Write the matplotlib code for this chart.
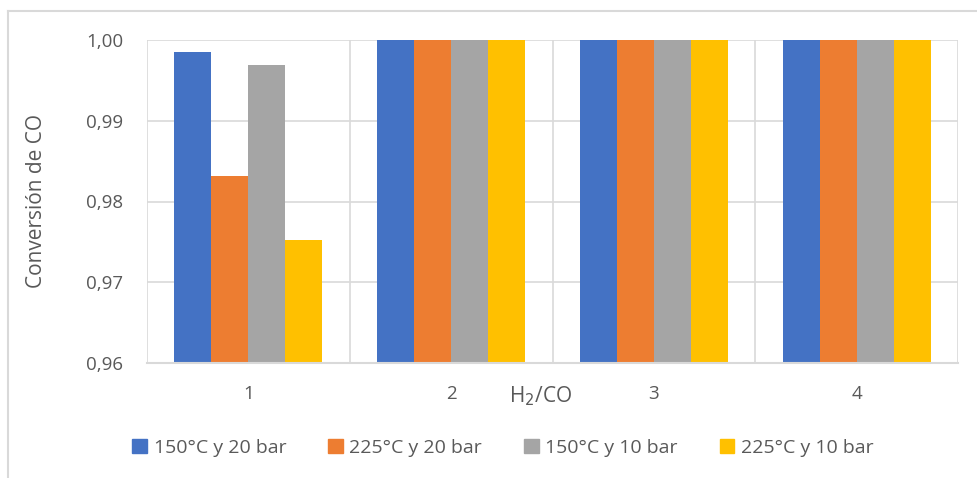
import matplotlib.pyplot as plt
import matplotlib.patches as mpatches
import numpy as np

categories = ["1", "2", "3", "4"]
series_names = ["150°C y 20 bar", "225°C y 20 bar", "150°C y 10 bar", "225°C y 10 bar"]
s150_20 = [0.9985, 1.0, 1.0, 1.0]
s225_20 = [0.9831, 1.0, 1.0, 1.0]
s150_10 = [0.9969, 1.0, 1.0, 1.0]
s225_10 = [0.9752, 1.0, 1.0, 1.0]
colors = ["#4472C4", "#ED7D31", "#A5A5A5", "#FFC000"]
yticks = [0.96, 0.97, 0.98, 0.99, 1.00]
ytick_labels = ["0,96", "0,97", "0,98", "0,99", "1,00"]

plt.rcParams['font.family'] = ['Open Sans', 'DejaVu Sans']
txt = "#595959"
grid = "#D9D9D9"

fig = plt.figure(figsize=(9.77, 4.78), dpi=100)
# chart border (left and top visible)
fig.add_artist(plt.Line2D([8/977, 8/977], [0, 1 - 11/478], color=grid, lw=1.5))
fig.add_artist(plt.Line2D([8/977, 1], [1 - 11/478, 1 - 11/478], color=grid, lw=1.5))

ax = fig.add_axes([147/977, 1 - 363/478, (958 - 147)/977, (363 - 40)/478])
x = np.arange(len(categories))
bw = 0.1825
all_series = [s150_20, s225_20, s150_10, s225_10]
for i, (vals, c) in enumerate(zip(all_series, colors)):
    ax.bar(x + (i - 1.5) * bw, [v - 0.96 for v in vals], bottom=0.96, width=bw,
           color=c, label=series_names[i], zorder=3)

ax.set_xlim(-0.5, 3.5)
ax.set_ylim(0.96, 1.0)
ax.set_yticks(yticks)
ax.set_yticklabels(ytick_labels)
ax.set_xticks(x)
ax.set_xticklabels(categories)
ax.set_xticks(np.arange(-0.5, 4.0, 1.0), minor=True)
ax.tick_params(axis='both', which='both', length=0, colors=txt, labelsize=13.5)
ax.tick_params(axis='x', pad=16)
ax.tick_params(axis='y', pad=17)
ax.grid(axis='y', which='major', color=grid, lw=1.2, zorder=0)
ax.grid(axis='x', which='minor', color=grid, lw=1.2, zorder=0)
for s in ['top', 'right', 'left']:
    ax.spines[s].set_visible(False)
ax.spines['bottom'].set_color(grid)
ax.spines['bottom'].set_linewidth(1.5)
ax.spines['bottom'].set_zorder(4)

ax.set_ylabel("Conversión de CO", color=txt, fontsize=15, labelpad=28)
fig.text(541/977, 1 - 396/478, "H$_2$/CO", color=txt, fontsize=15, ha='center', va='center')

handles = [mpatches.Patch(color=c) for c in colors]
leg = fig.legend(handles, series_names, loc='center', bbox_to_anchor=(503/977, 1 - 448/478),
                 ncol=4, frameon=False, fontsize=14, handlelength=0.75, handleheight=0.75,
                 handletextpad=0.35, columnspacing=2.15, labelcolor=txt)

fig.savefig("out.png", dpi=100)
